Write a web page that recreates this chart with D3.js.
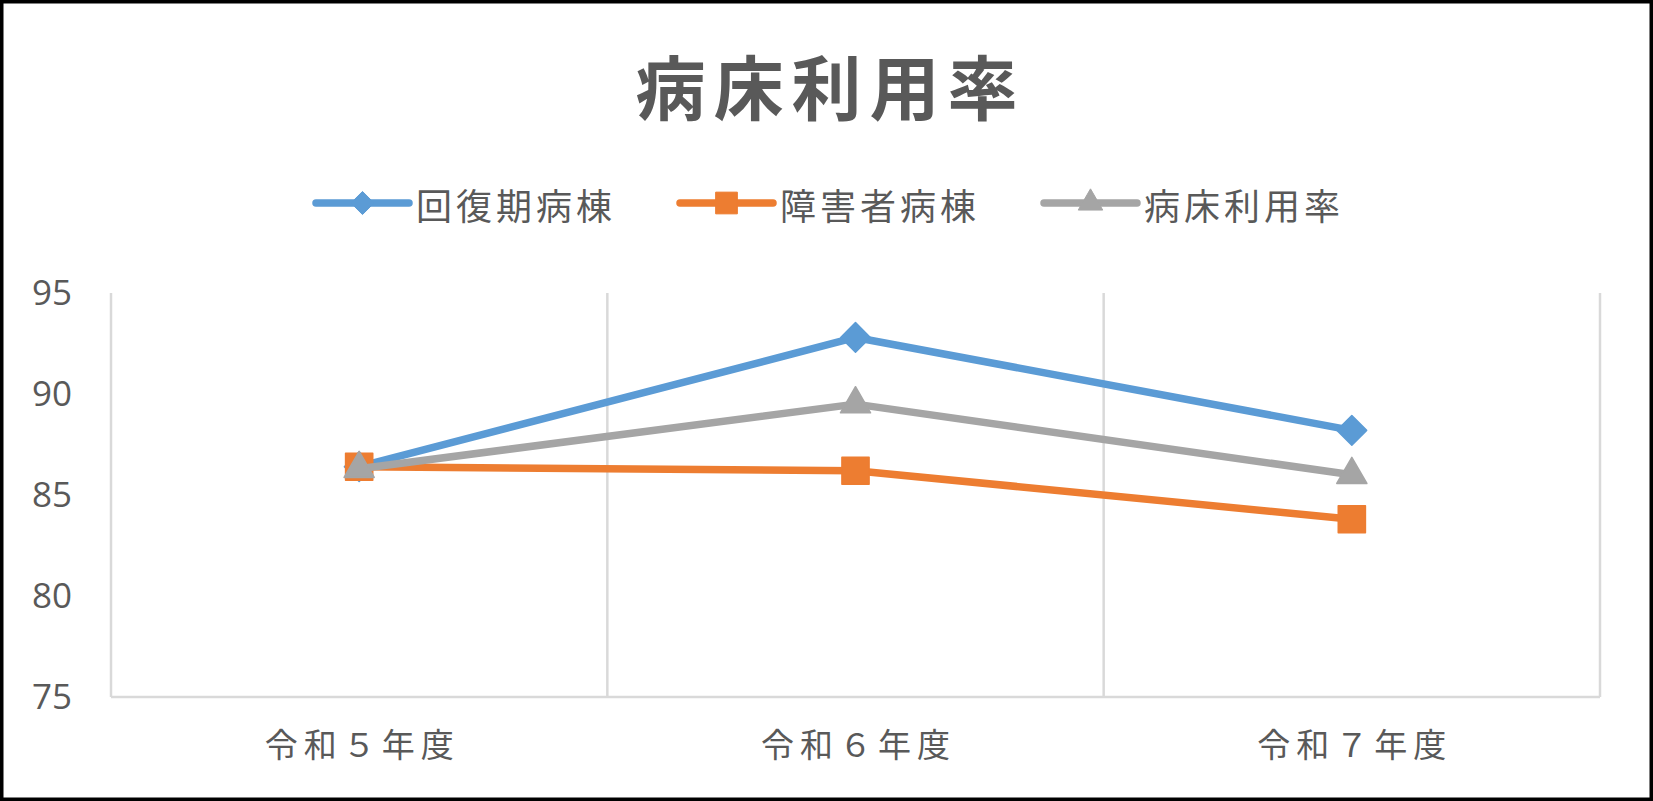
<!DOCTYPE html>
<html><head><meta charset="utf-8">
<script src="https://cdn.jsdelivr.net/npm/d3@7/dist/d3.min.js"></script>
<style>
html,body{margin:0;padding:0;background:#fff;}
svg{display:block;}
text{font-family:"Noto Sans CJK JP","Noto Sans",sans-serif;fill:#595959;}
</style></head>
<body><svg id="chart" width="1653" height="801"></svg>
<script>
const title = "病床利用率";
const categories = ["令和５年度", "令和６年度", "令和７年度"];
const seriesNames = ["回復期病棟", "障害者病棟", "病床利用率"];
const kaifukuki = [86.4, 92.8, 88.2];
const shogaisha = [86.4, 86.2, 83.8];
const byoshoRiyoritsu = [86.3, 89.5, 86.0];
const yTicks = [75, 80, 85, 90, 95];

const colors = ["#5B9BD5", "#ED7D31", "#A5A5A5"];
const symbols = [d3.symbolDiamond2, d3.symbolSquare2, d3.symbolTriangle2];
const markerSize = [560, 940, 650];
const legendMarkerSize = [340, 600, 430];
const series = seriesNames.map((n, i) => ({name: n, values: [kaifukuki, shogaisha, byoshoRiyoritsu][i], color: colors[i], symbol: symbols[i], ms: markerSize[i], lms: legendMarkerSize[i]}));

const W = 1653, H = 801;
const svg = d3.select("#chart");
svg.append("rect").attr("x", 1.75).attr("y", 1.75).attr("width", W - 3.5).attr("height", H - 3.5)
  .attr("fill", "#fff").attr("stroke", "#000").attr("stroke-width", 3.5);

const L = 111, R = 1600, T = 293, B = 697;
const x = d3.scaleBand().domain(categories).range([L, R]).paddingInner(0).paddingOuter(0);
const y = d3.scaleLinear().domain([75, 95]).range([B, T]);

// title
svg.append("text").attr("x", W / 2 + 4).attr("y", 84).attr("text-anchor", "middle")
  .attr("dominant-baseline", "central").style("font-size", "70px").style("font-weight", "bold")
  .style("letter-spacing", "8px").text(title);

// vertical gridlines
const gx = categories.map(c => x(c)).concat([R]);
svg.append("g").selectAll("line").data(gx).join("line")
  .attr("x1", d => d).attr("x2", d => d).attr("y1", T).attr("y2", B)
  .attr("stroke", "#D9D9D9").attr("stroke-width", 2.5);

// x axis
const xAxis = svg.append("g").attr("transform", `translate(0,${B})`)
  .call(d3.axisBottom(x).tickSize(0).tickPadding(0));
xAxis.select(".domain").attr("stroke", "#D9D9D9").attr("stroke-width", 2.5).attr("d", `M${L},0H${R}`);
xAxis.selectAll(".tick text").attr("y", 48).attr("dy", "0.35em").attr("dx", 3)
  .style("font-size", "33px").style("letter-spacing", "6px").attr("fill", "#595959")
  .style("font-family", '"Noto Sans CJK JP",sans-serif');

// y axis
const yAxis = svg.append("g").attr("transform", `translate(72,0)`)
  .call(d3.axisLeft(y).tickValues(yTicks).tickSize(0).tickPadding(0));
yAxis.select(".domain").remove();
yAxis.selectAll(".tick text").attr("fill", "#595959").style("font-size", "35px")
  .style("font-family", '"Open Sans","Noto Sans",sans-serif');

// series
const line = d3.line().x((d, i) => x(categories[i]) + x.bandwidth() / 2).y(d => y(d));
series.forEach(s => {
  const g = svg.append("g");
  g.append("path").datum(s.values).attr("d", line).attr("fill", "none")
    .attr("stroke", s.color).attr("stroke-width", 7.5).attr("stroke-linejoin", "round").attr("stroke-linecap", "round");
  g.selectAll("path.m").data(s.values).join("path").attr("class", "m")
    .attr("transform", (d, i) => `translate(${x(categories[i]) + x.bandwidth() / 2},${y(d)})`)
    .attr("d", d3.symbol().type(s.symbol).size(s.ms))
    .attr("fill", s.color).attr("stroke", s.color).attr("stroke-width", 1.5).attr("stroke-linejoin", "round");
});

// legend
const legendX = [316, 680, 1044];
const lg = svg.append("g");
series.forEach((s, i) => {
  const g = lg.append("g").attr("transform", `translate(${legendX[i]},203)`);
  g.append("line").attr("x1", 0).attr("x2", 93).attr("y1", 0).attr("y2", 0)
    .attr("stroke", s.color).attr("stroke-width", 7.5).attr("stroke-linecap", "round");
  g.append("path").attr("transform", "translate(46.5,0)")
    .attr("d", d3.symbol().type(s.symbol).size(s.lms))
    .attr("fill", s.color).attr("stroke", s.color).attr("stroke-width", 1).attr("stroke-linejoin", "round");
  g.append("text").attr("x", 100).attr("y", 1).attr("dominant-baseline", "central")
    .style("font-size", "36px").style("letter-spacing", "4px").text(s.name);
});
</script></body></html>
